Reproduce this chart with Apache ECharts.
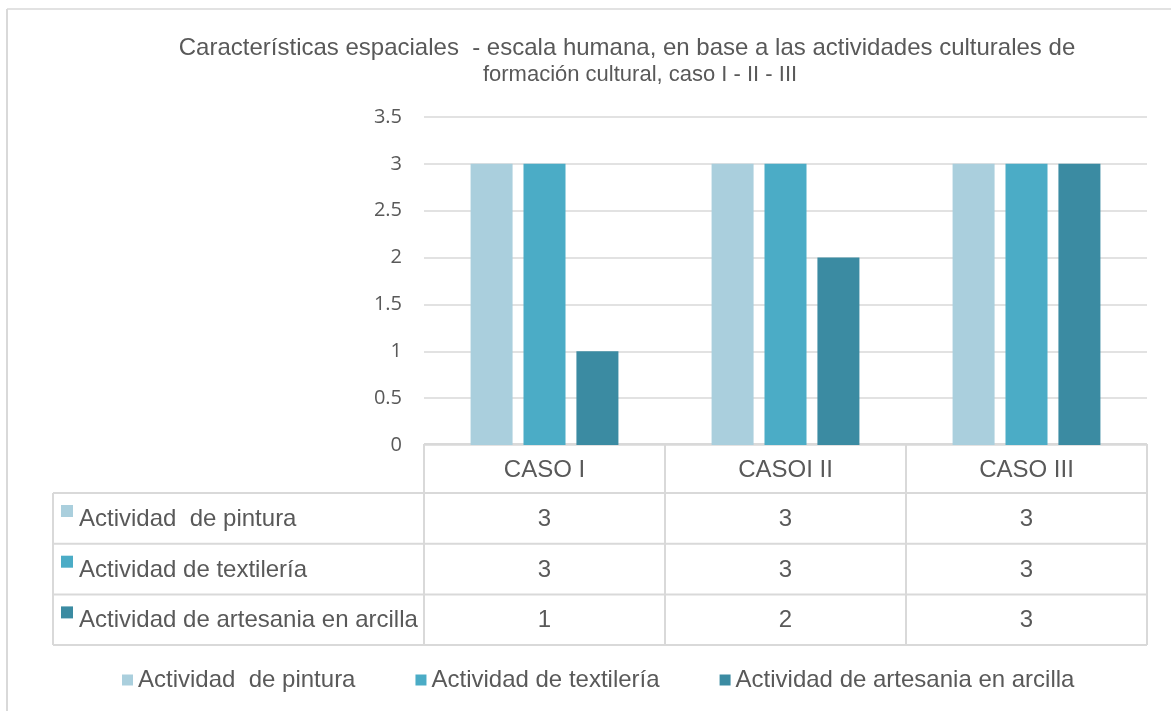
<!DOCTYPE html>
<html>
<head>
<meta charset="utf-8">
<title>Características espaciales</title>
<script src="https://cdn.jsdelivr.net/npm/echarts@6/dist/echarts.min.js"></script>
<style>
  html, body { margin: 0; padding: 0; background: #fff; }
  #chart { width: 1171px; height: 711px; }
</style>
</head>
<body>
<div id="chart"></div>
<script>
// datos
const categories = ['CASO I', 'CASOI II', 'CASO III'];
const seriesNames = ['Actividad  de pintura', 'Actividad de textilería', 'Actividad de artesania en arcilla'];
const pintura = [3, 3, 3];
const textileria = [3, 3, 3];
const arcilla = [1, 2, 3];
const seriesData = [pintura, textileria, arcilla];
const titleLines = [
  'Características espaciales  - escala humana, en base a las actividades culturales de',
  'formación cultural, caso I - II - III'
];

const colors = ['#aacfdd', '#4bacc6', '#3b8ba2'];
const textColor = '#595959';
const lineColor = '#d9d9d9';
const font = 'Liberation Sans, Arial, sans-serif';

// layout
const W = 1171, H = 711;
const gridLeft = 424, gridRight = 24, gridTop = 117, gridBottom = 266;
const axisY = H - gridBottom;        // y of value 0
const tableLeft = 53;
const headerBottom = 493;
const rowH = 50.7;

const chart = echarts.init(document.getElementById('chart'));

const titleStyle = (size) => ({
  fontFamily: font,
  fontSize: size,
  fontWeight: 'normal',
  color: textColor
});

chart.setOption({
  animation: false,
  color: colors,
  title: [
    { text: titleLines[0], left: 627, top: 36, padding: 0, textAlign: 'center', textStyle: titleStyle(24) },
    { text: titleLines[1], left: 640, top: 64, padding: 0, textAlign: 'center', textStyle: titleStyle(22) }
  ],
  legend: {
    left: 117,
    top: 663,
    itemWidth: 11,
    itemHeight: 11,
    itemGap: 60,
    icon: 'rect',
    textStyle: { fontFamily: font, fontSize: 24, color: textColor },
    data: seriesNames
  },
  grid: {
    left: gridLeft,
    right: gridRight,
    top: gridTop,
    bottom: gridBottom
  },
  xAxis: {
    type: 'category',
    data: categories,
    axisLine: { show: false },
    axisTick: { show: false },
    axisLabel: { show: false }
  },
  yAxis: {
    type: 'value',
    min: 0,
    max: 3.5,
    interval: 0.5,
    axisLine: { show: false },
    axisTick: { show: false },
    axisLabel: {
      margin: 22,
      fontFamily: 'Open Sans, sans-serif',
      fontSize: 20,
      color: textColor
    },
    splitLine: { lineStyle: { color: lineColor, width: 1.5 } }
  },
  series: seriesNames.map((name, i) => ({
    name: name,
    type: 'bar',
    data: seriesData[i],
    barWidth: 42,
    barGap: '26%'
  }))
});

// tabla de datos debajo del gráfico
const plotRight = W - gridRight;
const colW = (plotRight - gridLeft) / categories.length;
const centers = categories.map(c => chart.convertToPixel({ xAxisIndex: 0 }, c));
const rowTops = seriesNames.map((n, i) => headerBottom + i * rowH);
const tableBottom = headerBottom + seriesNames.length * rowH;

const els = [];
const line = (x1, y1, x2, y2, w) => els.push({
  type: 'line', silent: true,
  shape: { x1, y1, x2, y2 },
  style: { stroke: lineColor, lineWidth: w || 2 }
});

// marco exterior
line(7, 9, W, 9, 1.5);
line(7, 9, 7, H, 2);

// líneas de la tabla
line(gridLeft, axisY - 1, plotRight, axisY - 1);
rowTops.concat([tableBottom]).forEach(y => line(tableLeft, y, plotRight, y));
line(tableLeft, headerBottom, tableLeft, tableBottom);
for (let i = 0; i <= categories.length; i++) {
  const x = gridLeft + i * colW;
  line(x, axisY - 1, x, tableBottom);
}

// encabezados
categories.forEach((c, j) => els.push({
  type: 'text', silent: true,
  style: {
    x: centers[j], y: (axisY + headerBottom) / 2 + 1,
    text: c, align: 'center', verticalAlign: 'middle',
    font: '24px ' + font, fill: textColor
  }
}));

// filas
seriesNames.forEach((name, i) => {
  const mid = rowTops[i] + rowH / 2;
  els.push({
    type: 'rect', silent: true,
    shape: { x: 61, y: rowTops[i] + 12, width: 12, height: 12 },
    style: { fill: colors[i] }
  });
  els.push({
    type: 'text', silent: true,
    style: {
      x: 79, y: mid + 1, text: name,
      align: 'left', verticalAlign: 'middle',
      font: '24px ' + font, fill: textColor
    }
  });
  seriesData[i].forEach((v, j) => els.push({
    type: 'text', silent: true,
    style: {
      x: centers[j], y: mid + 1, text: String(v),
      align: 'center', verticalAlign: 'middle',
      font: '24px ' + font, fill: textColor
    }
  }));
});

chart.setOption({ graphic: els });
</script>
</body>
</html>
